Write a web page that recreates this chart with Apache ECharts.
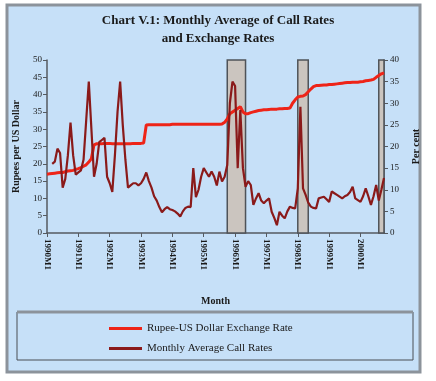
<!DOCTYPE html>
<html>
<head>
<meta charset="utf-8">
<script src="https://cdn.jsdelivr.net/npm/echarts@6/dist/echarts.min.js"></script>
<style>
html,body{margin:0;padding:0;background:#ffffff;}
#chart{width:436px;height:381px;}
</style>
</head>
<body>
<div id="chart"></div>
<script>
// Months 1990M1 .. 2000M10
var months = [];
for (var y = 1990; y <= 2000; y++) {
  for (var mo = 1; mo <= 12; mo++) {
    if (y === 2000 && mo > 10) break;
    months.push(y + 'M' + mo);
  }
}

// Rupee-US Dollar exchange rate (left axis)
var exchangeRate = [
  17.0,17.1,17.2,17.3,17.4,17.5,17.5,17.7,17.9,18.0,18.1,18.4,
  18.6,18.9,19.3,19.7,20.5,21.5,25.5,25.8,25.8,25.8,25.9,25.9,
  25.9,25.8,25.8,25.8,25.8,25.8,25.8,25.8,25.8,25.9,25.9,25.9,
  25.9,26.0,31.2,31.3,31.3,31.3,31.3,31.3,31.3,31.3,31.3,31.3,
  31.4,31.4,31.4,31.4,31.4,31.4,31.4,31.4,31.4,31.4,31.4,31.4,
  31.4,31.4,31.4,31.4,31.4,31.4,31.4,31.5,32.0,33.0,34.5,35.0,
  35.5,36.0,36.5,35.0,34.5,34.5,34.8,35.0,35.2,35.4,35.5,35.6,
  35.6,35.7,35.8,35.8,35.8,35.9,35.9,36.0,36.0,36.1,37.5,38.5,
  39.3,39.5,39.6,40.0,40.8,41.6,42.3,42.6,42.6,42.7,42.8,42.8,
  42.9,42.9,43.0,43.1,43.2,43.3,43.4,43.5,43.5,43.6,43.6,43.6,
  43.7,43.8,44.0,44.1,44.2,44.4,45.0,45.5,46.0,46.3
];

// Monthly average call rates (right axis, per cent)
var callRate = [
  null,null,16.0,16.5,19.5,18.5,10.5,12.5,18.0,25.5,18.0,13.5,
  14.0,14.5,17.0,26.0,35.0,24.0,13.0,16.0,21.0,21.5,22.0,13.0,
  11.5,9.5,18.0,28.0,35.0,25.0,17.0,10.5,11.0,11.5,11.5,11.0,
  11.5,12.5,14.0,12.0,10.5,8.5,7.5,6.0,4.8,5.5,6.0,5.5,
  5.3,5.0,4.5,3.8,5.0,5.8,6.1,6.0,15.0,8.3,10.0,13.0,
  15.0,14.0,13.0,14.2,13.0,11.0,14.2,11.9,13.0,15.7,30.0,35.0,
  34.0,15.0,28.4,15.0,10.7,12.0,11.1,6.5,8.0,9.2,7.5,6.9,
  7.5,8.0,4.9,3.5,1.8,4.9,4.0,3.4,5.0,6.1,5.8,5.7,
  10.3,29.2,10.3,8.8,7.0,6.1,5.8,5.7,8.0,8.2,8.4,7.8,
  7.2,9.6,9.2,8.8,8.4,8.0,8.5,8.8,9.5,10.7,8.0,7.6,
  7.2,8.5,10.3,8.5,6.5,8.5,11.1,7.5,10.0,12.7
];

// Shaded periods (start month, end month)
var shadedPeriods = [
  ['1995M10', '1996M5'],
  ['1998M1', '1998M5'],
  ['2000M8', '2000M10']
];

var leftTicks = { min: 0, max: 50, interval: 5 };
var rightTicks = { min: 0, max: 40, interval: 5 };

var serif = '"Liberation Serif", "DejaVu Serif", serif';
var axisColor = '#555a60';

var chart = echarts.init(document.getElementById('chart'), null, { renderer: 'canvas' });
chart.setOption({
  backgroundColor: '#ffffff',
  animation: false,
  graphic: [
    { type: 'rect', z: -10, shape: { x: 7, y: 5, width: 413, height: 367 },
      style: { fill: '#c6e0f8', stroke: '#8c939b', lineWidth: 3 } },
    { type: 'rect', z: -9, shape: { x: 17, y: 312, width: 396, height: 48 },
      style: { fill: 'transparent', stroke: '#4a4f55', lineWidth: 1 } },
    { type: 'line', z: -8, shape: { x1: 17, y1: 312, x2: 413, y2: 312 },
      style: { stroke: '#8c939b', lineWidth: 3 } }
  ],
  title: {
    text: 'Chart V.1: Monthly Average of Call Rates\nand Exchange Rates',
    left: 'center',
    top: 7,
    textStyle: { fontFamily: serif, fontWeight: 'bold', fontSize: 13, lineHeight: 18, color: '#1a1a1a', align: 'center' }
  },
  legend: {
    orient: 'vertical',
    left: 104,
    top: 318,
    itemGap: 9,
    itemWidth: 33,
    itemHeight: 3,
    icon: 'rect',
    data: ['Rupee-US Dollar Exchange Rate', 'Monthly Average Call Rates'],
    textStyle: { fontFamily: serif, fontSize: 11, color: '#1a1a1a' }
  },
  grid: { left: 47, right: 52, top: 60, bottom: 148, containLabel: false },
  xAxis: {
    type: 'category',
    data: months,
    boundaryGap: false,
    name: 'Month',
    nameLocation: 'middle',
    nameGap: 63,
    nameTextStyle: { fontFamily: serif, fontSize: 10, fontWeight: 'bold', color: '#1a1a1a' },
    axisLine: { lineStyle: { color: axisColor, width: 1.5 } },
    axisTick: { interval: 11, length: 4, lineStyle: { color: axisColor } },
    axisLabel: { interval: 11, rotate: -90, fontFamily: serif, fontSize: 9, fontWeight: 'bold', color: '#1a1a1a', margin: 6 },
    splitLine: { show: false }
  },
  yAxis: [
    {
      type: 'value',
      min: leftTicks.min, max: leftTicks.max, interval: leftTicks.interval,
      name: 'Rupees per US Dollar',
      nameLocation: 'middle',
      nameRotate: 90,
      nameGap: 26,
      nameTextStyle: { fontFamily: serif, fontSize: 10, fontWeight: 'bold', color: '#1a1a1a' },
      axisLine: { show: true, lineStyle: { color: axisColor, width: 1.5 } },
      axisTick: { show: true, length: 4, lineStyle: { color: axisColor } },
      axisLabel: { fontFamily: serif, fontSize: 9, color: '#1a1a1a', margin: 5 },
      splitLine: { show: false }
    },
    {
      type: 'value',
      position: 'right',
      min: rightTicks.min, max: rightTicks.max, interval: rightTicks.interval,
      name: 'Per cent',
      nameLocation: 'middle',
      nameRotate: 90,
      nameGap: 27,
      nameTextStyle: { fontFamily: serif, fontSize: 10, fontWeight: 'bold', color: '#1a1a1a' },
      axisLine: { show: true, lineStyle: { color: axisColor, width: 1.5 } },
      axisTick: { show: true, length: 4, lineStyle: { color: axisColor } },
      axisLabel: { fontFamily: serif, fontSize: 9, color: '#1a1a1a', margin: 6 },
      splitLine: { show: false }
    }
  ],
  series: [
    {
      name: 'shaded',
      type: 'line',
      data: [],
      z: 1,
      silent: true,
      markArea: {
        silent: true,
        itemStyle: { color: '#cbc5bf', borderColor: '#4f5358', borderWidth: 1.5 },
        data: shadedPeriods.map(function (p) { return [{ xAxis: p[0] }, { xAxis: p[1] }]; })
      }
    },
    {
      name: 'Rupee-US Dollar Exchange Rate',
      type: 'line',
      yAxisIndex: 0,
      data: exchangeRate,
      symbol: 'none',
      z: 3,
      color: '#ee2418',
      lineStyle: { color: '#ee2418', width: 3 }
    },
    {
      name: 'Monthly Average Call Rates',
      type: 'line',
      yAxisIndex: 1,
      data: callRate,
      symbol: 'none',
      z: 4,
      color: '#8a1a1a',
      lineStyle: { color: '#8a1a1a', width: 2.2 }
    }
  ]
});
</script>
</body>
</html>
